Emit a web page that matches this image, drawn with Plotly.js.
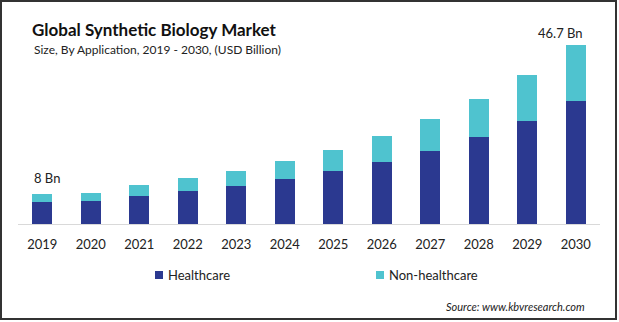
<!DOCTYPE html>
<html>
<head>
<meta charset="utf-8">
<script src="https://cdn.plot.ly/plotly-3.0.1.min.js"></script>
<style>
html,body{margin:0;padding:0;background:#fff;}
#wrap{position:relative;width:619px;height:322px;}
#chart{position:absolute;left:0;top:0;width:619px;height:322px;}
#frame{position:absolute;left:0;top:0;width:617px;height:320px;border:2px solid #333;box-sizing:border-box;pointer-events:none;}
</style>
</head>
<body>
<div id="wrap"><div id="chart"></div><div id="frame"></div></div>
<script>
const years = ['2019','2020','2021','2022','2023','2024','2025','2026','2027','2028','2029','2030'];
const healthcare = [5.7, 6.0, 7.3, 8.6, 9.9, 11.7, 13.8, 16.2, 19.0, 22.7, 26.9, 32.1];
const nonHealthcare = [2.1, 2.1, 2.9, 3.4, 3.9, 4.7, 5.5, 6.8, 8.4, 9.9, 12.0, 14.6];
const seriesNames = ['Healthcare', 'Non-healthcare'];
const seriesColors = ['#2b3990', '#4fc3cf'];
const labelFirst = '8 Bn';
const labelLast = '46.7 Bn';
const totals = healthcare.map((v, i) => v + nonHealthcare[i]);
const last = years.length - 1;

const FONT = 'Lato, "Open Sans", sans-serif';
const W = 582, H = 184, L = 18, B = 224;
const px = x => (x - L) / W;
const py = y => (B - y) / H;

const data = [
  {type:'bar', name:seriesNames[0], x:years, y:healthcare, marker:{color:seriesColors[0]}},
  {type:'bar', name:seriesNames[1], x:years, y:nonHealthcare, marker:{color:seriesColors[1]}}
];

// manual legend (square + text), positioned like the reference
const legendX = [155, 376];
const legendY = 275;
const shapes = seriesNames.map((n, i) => ({
  type:'rect', xref:'paper', yref:'paper',
  x0:px(legendX[i]), x1:px(legendX[i] + 8), y0:py(legendY - 4), y1:py(legendY + 4),
  fillcolor:seriesColors[i], line:{width:0}
}));
const legendAnn = seriesNames.map((n, i) => ({
  xref:'paper', yref:'paper', x:px(legendX[i] + 11), y:py(legendY), xanchor:'left', yanchor:'middle',
  text:n, showarrow:false, font:{size:13, color:'#222'}
}));

const layout = {
  width:619, height:322,
  margin:{l:L, r:19, t:40, b:98},
  barmode:'stack', bargap:0.59,
  paper_bgcolor:'#fff', plot_bgcolor:'#fff',
  font:{family:FONT, color:'#222'},
  title:{text:'<b>Global Synthetic Biology Market</b>', font:{size:17, color:'#111', family:FONT},
         xref:'container', yref:'container', x:32/619, xanchor:'left', y:1-30/322, yanchor:'middle'},
  xaxis:{type:'category', categoryorder:'array', categoryarray:years, range:[-0.5, last+0.5],
         showline:true, linecolor:'#d9d9d9', linewidth:1, ticks:'',
         tickfont:{size:13, color:'#222'}, ticklabelstandoff:8, fixedrange:true},
  yaxis:{range:[0,48], visible:false, showgrid:false, zeroline:false, fixedrange:true},
  showlegend:false,
  shapes: shapes,
  annotations:[
    {xref:'paper', yref:'paper', x:px(32), y:py(49), xanchor:'left', yanchor:'middle',
     text:'Size, By Application, 2019 - 2030, (USD Billion)', showarrow:false, font:{size:12, color:'#222', family:FONT}},
    {x:0, y:totals[0], xref:'x', yref:'y', text:labelFirst, showarrow:false, yanchor:'bottom', xshift:5, yshift:6,
     font:{size:13, color:'#222'}},
    {x:last, y:totals[last], xref:'x', yref:'y', text:labelLast, showarrow:false, yanchor:'bottom', xshift:-15, yshift:2,
     font:{size:13, color:'#222'}},
    {xref:'paper', yref:'paper', x:px(587), y:py(306), xanchor:'right', yanchor:'middle',
     text:'<i>Source: www.kbvresearch.com</i>', showarrow:false, font:{size:11, color:'#222'}}
  ].concat(legendAnn)
};
Plotly.newPlot('chart', data, layout, {displayModeBar:false, staticPlot:true});
</script>
</body>
</html>
